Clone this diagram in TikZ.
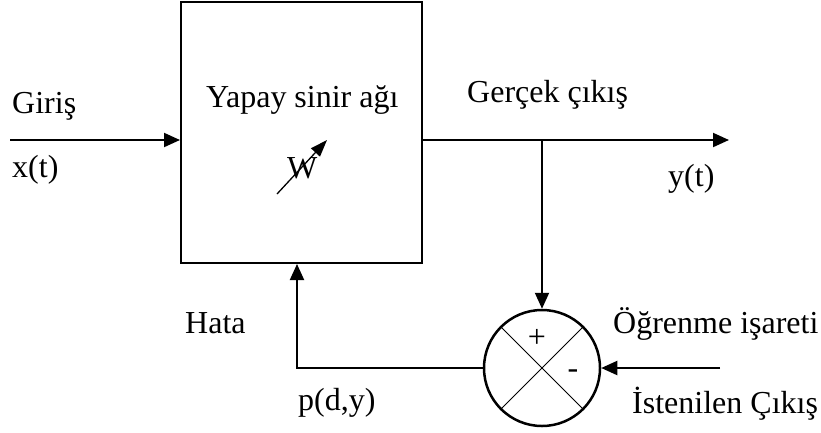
\documentclass[tikz,border=0pt]{standalone}
\usepackage{fontspec}
\setmainfont{Liberation Serif}
\usetikzlibrary{arrows.meta,shapes.geometric}
\begin{document}
\begin{tikzpicture}[x=1pt,y=-1pt,
  lbl/.style={anchor=base west,inner sep=0pt,font=\fontsize{32}{38}\selectfont},
  wire/.style={line width=2pt},
  arr/.style={wire,-{Triangle[length=16pt,width=14pt]}},
  blk/.style={draw,line width=2pt,minimum width=241pt,minimum height=261pt,inner sep=0pt},
  sumj/.style={circle,draw,line width=2.5pt,minimum size=116pt,inner sep=0pt}]
\useasboundingbox (0,0) rectangle (821,432);
\node[blk] (box) at (301.5,132.5) {};
\node[sumj] (sum) at (542,368) {};
\coordinate (inp) at (10,140);
\coordinate (tap) at (542,140);
\coordinate (out) at (729,140);
\coordinate (des) at (720,368);
\coordinate (fb) at (297,368);
\coordinate (wa) at (277,194);
\coordinate (wb) at (327,140);
% connectors
\draw[arr] (inp) -- (inp -| box.west);
\draw[arr] (inp -| box.east) -- (out);
\draw[arr] (tap) -- (sum.north);
\draw[arr] (des) -- (sum.east);
\draw[arr] (sum.west) -- (fb) -- (fb |- box.south);
\draw[line width=1pt] (sum.north west) -- (sum.south east);
\draw[line width=1pt] (sum.north east) -- (sum.south west);
% labels
\node[lbl] (giris) at (12,113) {Giriş};
\node[lbl] (xt) at (12,177) {x(t)};
\node[lbl] (ysa) at (206,107) {Yapay sinir ağı};
\node[lbl] (gc) at (467,102) {Gerçek çıkış};
\node[lbl] (yt) at (668,186) {y(t)};
\node[lbl] (hata) at (185,333) {Hata};
\node[lbl] (oi) at (613,333) {Öğrenme işareti};
\node[lbl] (pdy) at (298,410) {p(d,y)};
\node[lbl] (ic) at (632,413) {İstenilen Çıkış};
\node[lbl] (w) at (287,178) {W};
\node[lbl,anchor=center] (plus) at (537,338) {+};
\node[lbl,anchor=center] (minus) at (573,374) {-};
\draw[line width=1.3pt,-{Triangle[length=17pt,width=12pt]}] (wa) -- (wb);
\end{tikzpicture}
\end{document}
